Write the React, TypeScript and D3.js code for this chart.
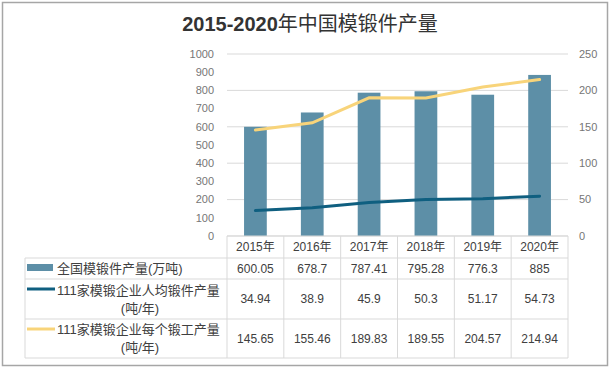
import * as d3 from "d3";

// chart data
const years = ["2015年", "2016年", "2017年", "2018年", "2019年", "2020年"];
const nationalOutput = [600.05, 678.7, 787.41, 795.28, 776.3, 885];
const perCapitaOutput = [34.94, 38.9, 45.9, 50.3, 51.17, 54.73];
const perForgeOutput = [145.65, 155.46, 189.83, 189.55, 204.57, 214.94];

const seriesNames = [
  ["全国模锻件产量(万吨)"],
  ["111家模锻企业人均锻件产量", "(吨/年)"],
  ["111家模锻企业每个锻工产量", "(吨/年)"],
];

const W = 611;
const H = 369;
const barColor = "#5d8fa7";
const blueColor = "#0f5f80";
const yellowColor = "#f8d47a";
const gridColor = "#d9d9d9";
const font = "'Liberation Sans', 'Noto Sans CJK SC', sans-serif";

export default function App() {
  const plotLeft = 227;
  const plotRight = 568;
  const plotTop = 54;
  const plotBottom = 236;

  const x = d3.scaleBand<string>().domain(years).range([plotLeft, plotRight]);
  const yLeft = d3.scaleLinear().domain([0, 1000]).range([plotBottom, plotTop]);
  const yRight = d3.scaleLinear().domain([0, 250]).range([plotBottom, plotTop]);

  const barW = x.bandwidth() * 0.4;
  const cx = (i: number) => (x(years[i]) ?? 0) + x.bandwidth() / 2;

  const line = d3
    .line<number>()
    .x((_, i) => cx(i))
    .y((d) => yRight(d));

  // table rows
  const tableLeft = 25;
  const rowEdges = [236, 258, 279, 319, 358];
  const rows = [nationalOutput, perCapitaOutput, perForgeOutput];

  return (
    <div style={{ position: "absolute", left: 0, top: 0 }}>
      <svg width={W} height={H} style={{ display: "block", fontFamily: font }}>
        <rect x={0} y={0} width={W} height={H} fill="#fff" />
        <rect x={2.5} y={2.5} width={605} height={363} fill="none" stroke="#a6a6a6" strokeWidth={1.5} />

        <text x={310} y={31} textAnchor="middle" fontSize={20} fill="#333">
          <tspan fontWeight="bold">2015-2020</tspan>
          <tspan fontFamily="'Noto Sans CJK SC', sans-serif">年中国模锻件产量</tspan>
        </text>

        {/* gridlines */}
        {yRight.ticks(5).map((t) => (
          <line key={t} x1={plotLeft} x2={plotRight} y1={yRight(t)} y2={yRight(t)} stroke={gridColor} strokeWidth={1} />
        ))}

        {/* left axis labels */}
        {yLeft.ticks(10).map((t) => (
          <text key={t} x={214} y={yLeft(t)} dy="0.35em" textAnchor="end" fontSize={11} fill="#767676">
            {t}
          </text>
        ))}

        {/* right axis labels */}
        {yRight.ticks(5).map((t) => (
          <text key={t} x={579} y={yRight(t)} dy="0.35em" textAnchor="start" fontSize={11} fill="#767676">
            {t}
          </text>
        ))}

        {/* bars */}
        {nationalOutput.map((v, i) => (
          <rect key={i} x={cx(i) - barW / 2} y={yLeft(v)} width={barW} height={plotBottom - yLeft(v)} fill={barColor} />
        ))}

        <path d={line(perCapitaOutput) ?? ""} fill="none" stroke={blueColor} strokeWidth={3} strokeLinecap="round" />
        <path d={line(perForgeOutput) ?? ""} fill="none" stroke={yellowColor} strokeWidth={3} strokeLinecap="round" />

        {/* data table */}
        <g stroke={gridColor} strokeWidth={1}>
          <line x1={plotLeft} x2={plotRight} y1={rowEdges[0]} y2={rowEdges[0]} />
          {rowEdges.slice(1).map((ry) => (
            <line key={ry} x1={tableLeft} x2={plotRight} y1={ry} y2={ry} />
          ))}
          <line x1={tableLeft} x2={tableLeft} y1={rowEdges[1]} y2={rowEdges[4]} />
          {years.map((yr) => (
            <line key={yr} x1={x(yr)} x2={x(yr)} y1={rowEdges[0]} y2={rowEdges[4]} />
          ))}
          <line x1={plotRight} x2={plotRight} y1={rowEdges[0]} y2={rowEdges[4]} />
        </g>

        {years.map((yr, i) => (
          <text key={yr} x={cx(i)} y={(rowEdges[0] + rowEdges[1]) / 2} dy="0.35em" textAnchor="middle" fontSize={12} fill="#404040">
            {yr}
          </text>
        ))}

        {rows.map((vals, r) =>
          vals.map((v, i) => (
            <text
              key={`${r}-${i}`}
              x={cx(i)}
              y={(rowEdges[r + 1] + rowEdges[r + 2]) / 2}
              dy="0.35em"
              textAnchor="middle"
              fontSize={12}
              fill="#404040"
            >
              {String(v)}
            </text>
          )),
        )}

        {/* legend keys in the table */}
        <rect x={27} y={264} width={26} height={7} fill={barColor} />
        <line x1={27} x2={55} y1={289} y2={289} stroke={blueColor} strokeWidth={3} />
        <line x1={27} x2={55} y1={329} y2={329} stroke={yellowColor} strokeWidth={3} />

        {seriesNames.map((lines, r) => {
          const top = rowEdges[r + 1];
          const bottom = rowEdges[r + 2];
          const mid = (top + bottom) / 2;
          if (lines.length === 1) {
            return (
              <text key={r} x={57} y={mid} dy="0.35em" fontSize={13} fill="#404040">
                {lines[0]}
              </text>
            );
          }
          return (
            <g key={r}>
              <text x={57} y={mid - 9} dy="0.35em" fontSize={13} fill="#404040">
                {lines[0]}
              </text>
              <text x={140} y={mid + 9} dy="0.35em" textAnchor="middle" fontSize={13} fill="#404040">
                {lines[1]}
              </text>
            </g>
          );
        })}
      </svg>
    </div>
  );
}
